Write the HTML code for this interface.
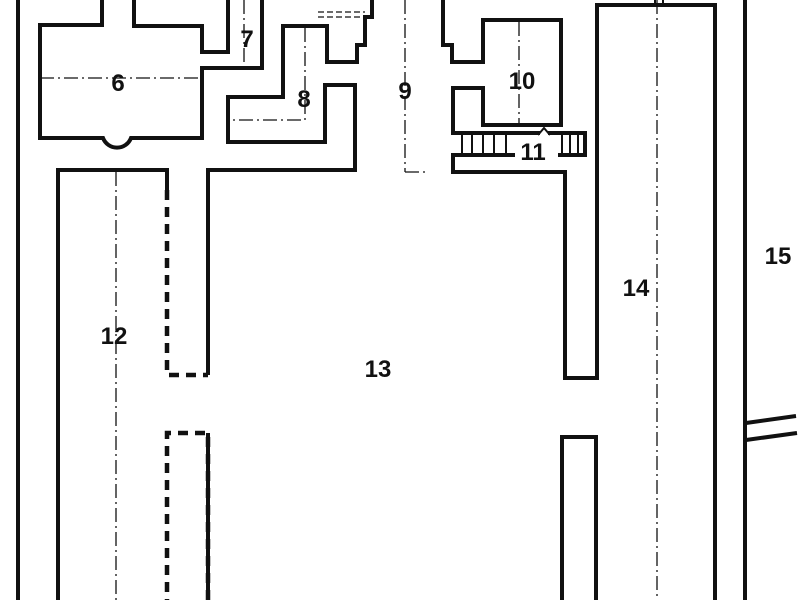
<!DOCTYPE html>
<html><head><meta charset="utf-8"><style>
html,body{margin:0;padding:0;background:#fff;width:800px;height:600px;overflow:hidden}
text{font-family:"Liberation Sans",sans-serif;font-weight:bold;font-size:24px;fill:#111;text-anchor:middle}
</style></head><body>
<svg width="800" height="600" viewBox="0 0 800 600" xmlns="http://www.w3.org/2000/svg">
<g fill="none" stroke="#111" stroke-width="4" stroke-linejoin="miter">
<line x1="18" y1="0" x2="18" y2="600"/>
<path d="M102,0 V25 H40 V138 H103 A15,15 0 0 0 131,138 H202 V68 H262 V0"/>
<path d="M134,0 V26 H202 V52 H228 V0"/>
<path d="M372,0 V17 H365 V45 H357 V62 H327 V26 H283 V97 H228 V142 H325 V85 H355 V170 H208 V375"/>
<path d="M58,600 V170 H167 V190"/>
<path d="M167,190 V375 H208" stroke-dasharray="10,7" stroke-width="4.5"/>
<path d="M208,600 V433 H167 V600" stroke-dasharray="10,7" stroke-width="4.5"/>
<line x1="208" y1="433" x2="208" y2="600"/>
<path d="M443,0 V8 M443,8 V45 H452 V62 H483 V20 H561 V125 H483 V88 H453 V133 H540 M548,133 H585 V155 H558 M515,155 H453 V172 H565 V378 H597 V5 H715 V600"/>
<path d="M562,600 V437 H596 V600"/>
<line x1="745" y1="0" x2="745" y2="600"/>
<line x1="746" y1="423" x2="796" y2="416"/>
<line x1="746" y1="440" x2="797" y2="433"/>
</g>
<g stroke="#111" stroke-width="2">
<line x1="655" y1="0" x2="655" y2="5"/><line x1="663" y1="0" x2="663" y2="5"/>
<line x1="462" y1="133" x2="462" y2="155"/><line x1="472" y1="133" x2="472" y2="155"/>
<line x1="483" y1="133" x2="483" y2="155"/><line x1="494" y1="133" x2="494" y2="155"/>
<line x1="506" y1="133" x2="506" y2="155"/><line x1="562" y1="133" x2="562" y2="155"/>
<line x1="570" y1="133" x2="570" y2="155"/><line x1="578" y1="133" x2="578" y2="155"/>
<path d="M538,135 L544,128 L550,135" fill="none"/>
</g>
<g stroke="#111" stroke-width="1.3" stroke-dasharray="14,4,2,4" fill="none">
<line x1="40" y1="78" x2="200" y2="78"/>
<line x1="244" y1="0" x2="244" y2="66"/>
<path d="M305,28 V120 H230"/>
<line x1="405" y1="0" x2="405" y2="172"/>
<line x1="405" y1="172" x2="425" y2="172"/>
<line x1="519" y1="22" x2="519" y2="123"/>
<line x1="116" y1="172" x2="116" y2="600"/>
<line x1="657" y1="0" x2="657" y2="600"/>
</g>
<g stroke="#111" stroke-width="1.2" stroke-dasharray="6,3">
<line x1="318" y1="12" x2="365" y2="12"/><line x1="318" y1="17" x2="365" y2="17"/>
</g>
<text x="118" y="91">6</text>
<text x="247" y="47">7</text>
<text x="304" y="107">8</text>
<text x="405" y="99">9</text>
<text x="522" y="89">10</text>
<text x="533" y="160">11</text>
<text x="114" y="344">12</text>
<text x="378" y="377">13</text>
<text x="636" y="296">14</text>
<text x="778" y="264">15</text>
</svg>
</body></html>
